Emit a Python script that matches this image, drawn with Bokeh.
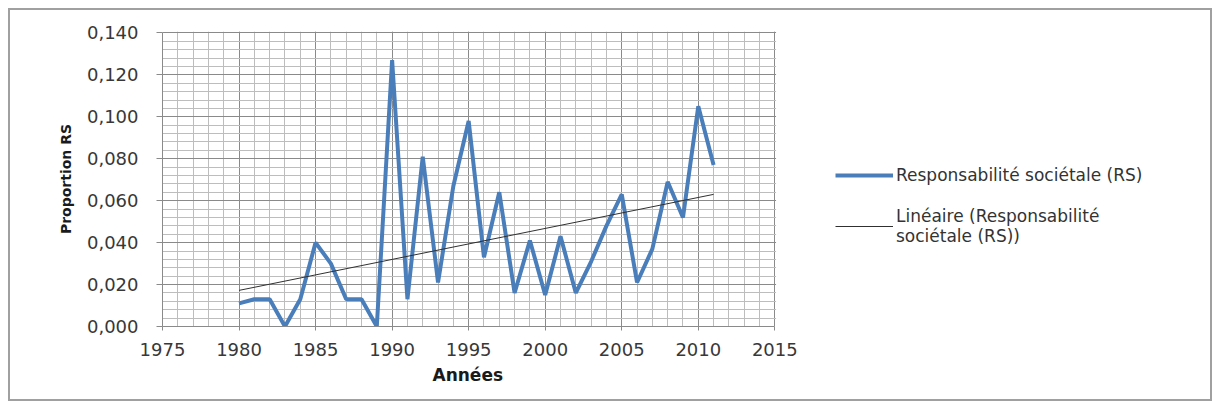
import numpy as np
from bokeh.plotting import figure
from bokeh.models import (Range1d, SingleIntervalTicker, CustomJSTickFormatter,
                          Legend, LegendItem, BoxAnnotation, Title)
from bokeh.embed import file_html
from bokeh.resources import INLINE

# ---- data ----
years = list(range(1980, 2012))
rs_values = [0.011, 0.013, 0.013, 0.000, 0.013, 0.040, 0.030, 0.013, 0.013, 0.000,
             0.127, 0.013, 0.081, 0.021, 0.067, 0.098, 0.033, 0.064, 0.016, 0.041,
             0.015, 0.043, 0.016, 0.031, 0.048, 0.063, 0.021, 0.037, 0.069, 0.052,
             0.105, 0.077]
series_label = "Responsabilité sociétale (RS)"
trend_label = "Linéaire (Responsabilité\nsociétale (RS))"
x_title = "Années"
y_title = "Proportion RS"
x_axis_min, x_axis_max = 1975, 2015
y_axis_min, y_axis_max = 0.0, 0.14

# linear trend (least squares, as in the spreadsheet trendline)
slope, intercept = np.polyfit(years, rs_values, 1)
trend_x = [years[0], years[-1]]
trend_y = [slope * x + intercept for x in trend_x]

FONT = "DejaVu Sans"
MAJOR = "#8a8a8a"
MINOR = "#bdbdbd"

# layout: canvas 1200 wide; plot area 610 px for 40 years, frame extends to the right
# edge so that the legend (placed inside the frame) is not clipped
CANVAS_W, LEFT = 1200, 152
px_per_year = 610 / (x_axis_max - x_axis_min)
x_end = x_axis_min + (CANVAS_W - LEFT) / px_per_year

p = figure(width=1204, height=393, output_backend="svg", toolbar_location=None,
           x_range=Range1d(x_axis_min, x_end),
           y_range=Range1d(y_axis_min, y_axis_max * 1.005),
           min_border_left=LEFT, min_border_right=0, min_border_top=21,
           min_border_bottom=77)
p.styles = {"border": "2px solid #a0a0a0", "margin": "8px"}

p.outline_line_color = None
p.background_fill_color = "white"
p.border_fill_color = "white"

# axes
p.xaxis.ticker = SingleIntervalTicker(interval=5, num_minor_ticks=5)
p.yaxis.ticker = SingleIntervalTicker(interval=0.02, num_minor_ticks=5)
p.yaxis.formatter = CustomJSTickFormatter(code="return tick.toFixed(3).replace('.', ',');")
p.xaxis.bounds = (x_axis_min, x_axis_max)
p.yaxis.bounds = (y_axis_min, y_axis_max)

for ax in (p.xaxis[0], p.yaxis[0]):
    ax.axis_line_color = MAJOR
    ax.major_tick_line_color = MAJOR
    ax.minor_tick_line_color = None
    ax.major_tick_in = 0
    ax.major_label_text_font = FONT
    ax.major_label_text_font_size = "18px"
    ax.major_label_text_color = "#383838"
    ax.axis_label_text_font = FONT
    ax.axis_label_text_font_style = "bold"
    ax.axis_label_text_color = "#1a1a1a"

p.xaxis.major_tick_out = 4
p.xaxis.major_label_standoff = 12

p.yaxis.major_tick_out = 6
p.yaxis.major_label_standoff = 18
p.yaxis.axis_label = y_title
p.yaxis.axis_label_text_font_size = "14px"
p.yaxis.axis_label_standoff = 10

# grids
p.xgrid.grid_line_color = MAJOR
p.ygrid.grid_line_color = MAJOR
p.xgrid.minor_grid_line_color = MINOR
p.ygrid.minor_grid_line_color = MINOR
p.xgrid.bounds = (x_axis_min, x_axis_max)
p.ygrid.bounds = (y_axis_min, y_axis_max)

# blank out the grid to the right of the plot area (legend zone)
p.add_layout(BoxAnnotation(left=x_axis_max + 0.08, right=x_end + 5,
                           bottom=-1, top=1, fill_color="white", fill_alpha=1.0,
                           line_color=None, level="underlay"))

# x-axis title
p.add_layout(Title(text=x_title, align="left", offset=270, standoff=8,
                   text_font=FONT, text_font_style="bold",
                   text_font_size="17px", text_color="#1a1a1a"), "below")

# data
r_main = p.line(years, rs_values, line_color="#4a7ebb", line_width=4)
r_trend = p.line(trend_x, trend_y, line_color="#303030", line_width=1)

legend = Legend(items=[LegendItem(label=series_label, renderers=[r_main]),
                       LegendItem(label=trend_label, renderers=[r_trend])],
                location=(673, 80), padding=0, margin=0, spacing=21,
                glyph_width=58, label_standoff=3,
                border_line_color=None, background_fill_alpha=0,
                label_text_font=FONT, label_text_font_size="17px",
                label_text_color="#333333")
p.add_layout(legend, "center")

open("out.html", "w").write(file_html(p, INLINE))
